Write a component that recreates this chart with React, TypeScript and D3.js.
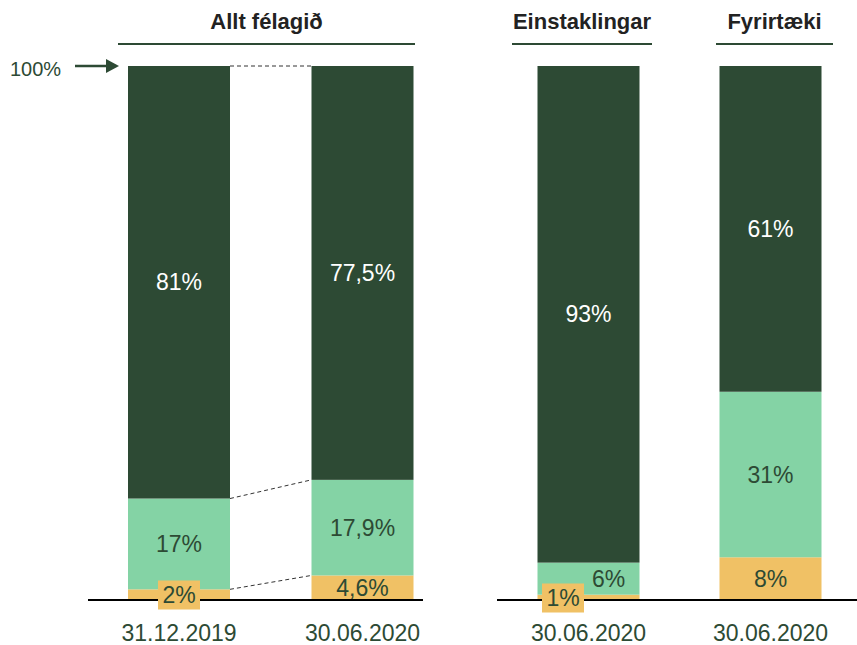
import React from 'react';
import * as d3 from 'd3';

// values (percent)
const barKeys = ['allt2019', 'allt2020', 'einst2020', 'fyrir2020'];
const dateLabels = ['31.12.2019', '30.06.2020', '30.06.2020', '30.06.2020'];
const yellowVals = [2, 4.6, 1, 8];
const lightVals = [17, 17.9, 6, 31];
const darkVals = [81, 77.5, 93, 61];
const groupTitles = ['Allt félagið', 'Einstaklingar', 'Fyrirtæki'];

const DARK = '#2d4a34';
const LIGHT = '#84d3a5';
const YELLOW = '#f0c165';
const TEXT_GREEN = '#2d4a34';
const FONT = '"Liberation Sans", Arial, Helvetica, sans-serif';

const W = 857;
const H = 645;
const barW = 102;

const fmt = (v: number) => d3.format('.1~f')(v).replace('.', ',') + '%';

export default function App() {
  const y = d3.scaleLinear().domain([0, 100]).range([600, 66]);

  // two groups of bars, each placed on its own point scale
  const xLeft = d3.scalePoint().domain(barKeys.slice(0, 2)).range([179, 362.5]);
  const xRight = d3.scalePoint().domain(barKeys.slice(2)).range([588.5, 770.5]);
  const cx = (k: string) => (barKeys.indexOf(k) < 2 ? xLeft(k)! : xRight(k)!);

  const bars = barKeys.map((k, i) => {
    const y0 = yellowVals[i];
    const y1 = y0 + lightVals[i];
    const y2 = y1 + darkVals[i];
    return {
      key: k,
      cx: cx(k),
      segs: [
        { from: 0, to: y0, color: YELLOW, value: yellowVals[i], text: TEXT_GREEN },
        { from: y0, to: y1, color: LIGHT, value: lightVals[i], text: TEXT_GREEN },
        { from: y1, to: y2, color: DARK, value: darkVals[i], text: '#ffffff' },
      ],
    };
  });

  const headerSpans = [
    [118, 415],
    [512, 652],
    [716, 833],
  ];

  // connectors between the two "Allt félagið" bars
  const b1 = bars[0];
  const b2 = bars[1];
  const connectors = [0, 1, 2].map((j) => ({
    y1: y(b1.segs[j].to),
    y2: y(b2.segs[j].to),
  }));

  return (
    <svg width={W} height={H} style={{ position: 'absolute', left: 0, top: 0 }} fontFamily={FONT}>
      <rect width={W} height={H} fill="#fff" />

      {/* group headers */}
      {groupTitles.map((t, i) => {
        const [a, b] = headerSpans[i];
        return (
          <g key={t}>
            <text x={(a + b) / 2} y={29} textAnchor="middle" fontSize={22} fontWeight="bold" fill="#222">
              {t}
            </text>
            <line x1={a} x2={b} y1={44} y2={44} stroke={DARK} strokeWidth={2} />
          </g>
        );
      })}

      {/* 100% marker */}
      <text x={10} y={76} fontSize={20} fill={TEXT_GREEN}>100%</text>
      <line x1={75} x2={108} y1={y(100)} y2={y(100)} stroke={DARK} strokeWidth={2.5} />
      <path d={`M106,${y(100) - 7} L119,${y(100)} L106,${y(100) + 7} Z`} fill={DARK} />

      {/* bars */}
      {bars.map((b) =>
        b.segs.map((s, j) => (
          <rect
            key={b.key + j}
            x={b.cx - barW / 2}
            y={y(s.to)}
            width={barW}
            height={y(s.from) - y(s.to)}
            fill={s.color}
          />
        ))
      )}

      {connectors.map((c, i) => (
        <line
          key={i}
          x1={b1.cx + barW / 2}
          x2={b2.cx - barW / 2}
          y1={c.y1}
          y2={c.y2}
          stroke="#333"
          strokeWidth={1}
          strokeDasharray="4,3"
        />
      ))}

      {/* baselines */}
      <line x1={88} x2={423} y1={600} y2={600} stroke="#000" strokeWidth={2} />
      <line x1={497} x2={857} y1={600} y2={600} stroke="#000" strokeWidth={2} />

      {/* value labels */}
      {bars.map((b, i) =>
        b.segs.map((s, j) => {
          const small = j === 0 && s.value < 3;
          const sixInEinst = b.key === 'einst2020' && j === 1;
          let lx = b.cx;
          let ly = (y(s.from) + y(s.to)) / 2;
          if (small) {
            lx = i === 0 ? b.cx : b.cx - 25.5;
            ly = i === 0 ? 595 : 598;
          }
          if (sixInEinst) lx = b.cx + 20;
          return (
            <g key={b.key + 'l' + j}>
              {small && <rect x={lx - 21} y={ly - 14.5} width={42} height={29} fill={YELLOW} />}
              <text x={lx} y={ly} dy="0.35em" textAnchor="middle" fontSize={23} fill={s.text}>
                {fmt(s.value)}
              </text>
            </g>
          );
        })
      )}

      {/* date labels */}
      {bars.map((b, i) => (
        <text key={b.key + 'd'} x={b.cx} y={641} textAnchor="middle" fontSize={23} fill={TEXT_GREEN}>
          {dateLabels[i]}
        </text>
      ))}
    </svg>
  );
}
